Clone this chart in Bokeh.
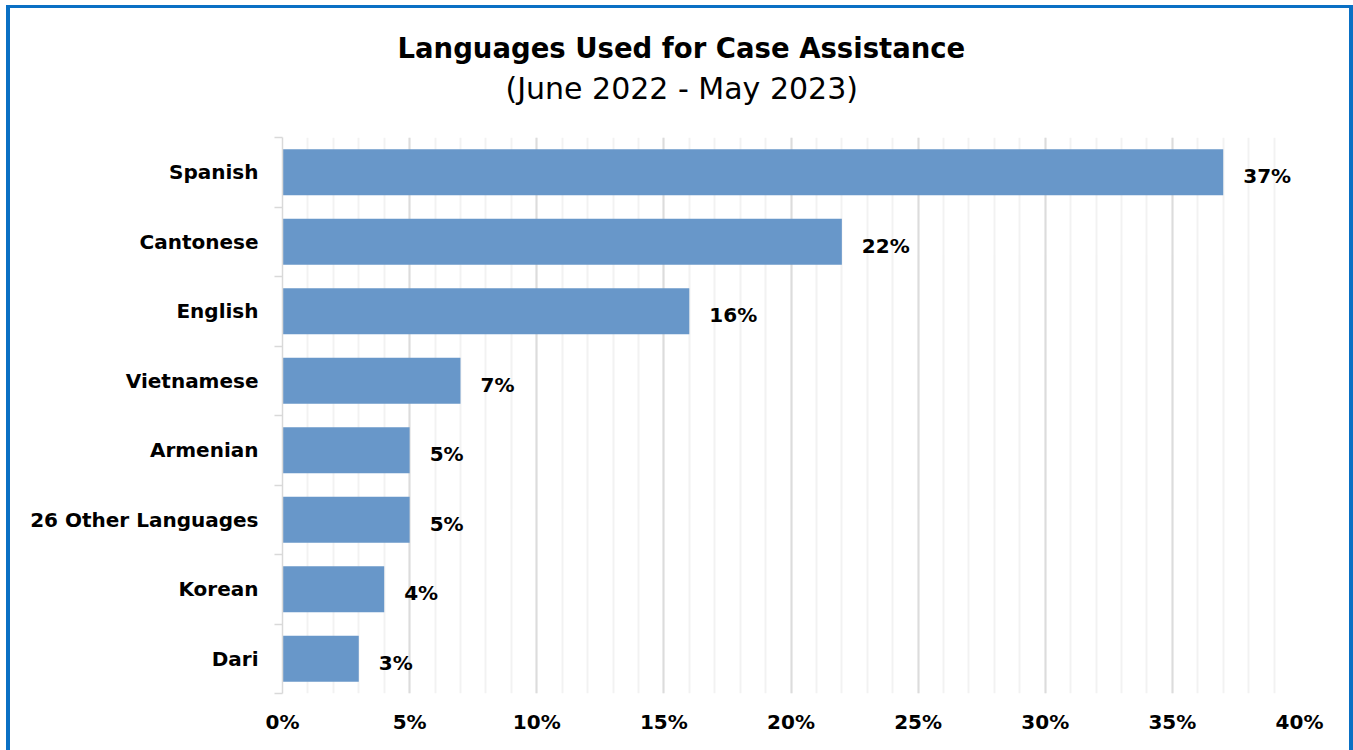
from bokeh.plotting import figure
from bokeh.models import (Range1d, FixedTicker, SingleIntervalTicker, PrintfTickFormatter,
                          Title, LabelSet, ColumnDataSource)
from bokeh.core.properties import value
from bokeh.embed import file_html
from bokeh.resources import INLINE

# ---- data ----
languages = ["Spanish", "Cantonese", "English", "Vietnamese", "Armenian",
             "26 Other Languages", "Korean", "Dari"]
shares = [37, 22, 16, 7, 5, 5, 4, 3]
x_ticks = [0, 5, 10, 15, 20, 25, 30, 35, 40]
title_text = "Languages Used for Case Assistance"
subtitle_text = "(June 2022 - May 2023)"

FONT = "DejaVu Sans"
BORDER = "#0A70C4"
BAR = "#6897C9"

n = len(languages)
ypos = [n - i - 0.5 for i in range(n)]
src = ColumnDataSource(dict(y=ypos, v=shares, lab=[f"{v}%" for v in shares], name=languages))

p = figure(width=1353, height=750, output_backend="svg", toolbar_location=None,
           x_range=Range1d(x_ticks[0], x_ticks[-1]), y_range=Range1d(0, n),
           min_border_left=282, min_border_right=54, min_border_top=137, min_border_bottom=57)

p.hbar(y="y", right="v", left=0, height=0.66, source=src, fill_color=BAR, line_color=None)

# x axis
p.xaxis.ticker = SingleIntervalTicker(interval=5, num_minor_ticks=5)
p.xaxis.formatter = PrintfTickFormatter(format="%d%%")
p.xaxis.axis_line_color = None
p.xaxis.major_tick_line_color = None
p.xaxis.minor_tick_line_color = None
p.xaxis.major_label_standoff = 10
p.xaxis.major_label_text_font = FONT
p.xaxis.major_label_text_font_style = "bold"
p.xaxis.major_label_text_font_size = "20px"
p.xaxis.major_label_text_color = "#000000"

# y axis
p.yaxis.ticker = FixedTicker(ticks=ypos, minor_ticks=list(range(n + 1)))
p.yaxis.major_label_overrides = {y: name for y, name in zip(ypos, languages)}
p.yaxis.axis_line_color = "#d9d9d9"
p.yaxis.axis_line_width = 1.5
p.yaxis.major_tick_line_color = None
p.yaxis.major_tick_out = 0
p.yaxis.major_tick_in = 0
p.yaxis.minor_tick_line_color = "#d9d9d9"
p.yaxis.minor_tick_line_width = 1.5
p.yaxis.minor_tick_out = 8
p.yaxis.minor_tick_in = 0
p.yaxis.major_label_standoff = 16
p.yaxis.major_label_text_font = FONT
p.yaxis.major_label_text_font_style = "bold"
p.yaxis.major_label_text_font_size = "20px"
p.yaxis.major_label_text_color = "#000000"

# grid
p.ygrid.visible = False
p.xgrid.grid_line_color = "#dcdcdc"
p.xgrid.grid_line_width = 2
p.xgrid.minor_grid_line_color = "#f2f2f2"
p.xgrid.minor_grid_line_width = 2

p.outline_line_color = None
p.border_fill_color = None
p.background_fill_color = None

# data labels
p.add_layout(LabelSet(x="v", y="y", text="lab", source=src, x_offset=20, y_offset=-4,
                      text_baseline="middle", text_align="left", text_font=value(FONT),
                      text_font_style="bold", text_font_size="20px", text_color="#000000"))

# titles (first added sits closest to the frame)
p.add_layout(Title(text=subtitle_text, align="left", offset=223, standoff=63,
                   text_font=FONT, text_font_style="normal", text_font_size="30px",
                   text_color="#000000"), "above")
p.add_layout(Title(text=title_text, align="left", offset=115, standoff=-53,
                   text_font=FONT, text_font_style="bold", text_font_size="27.5px",
                   text_color="#000000"), "above")

line = f"linear-gradient({BORDER},{BORDER})"
p.styles = {
    "background": (f"{line} 6px 5px / 4px 900px no-repeat, "
                   f"{line} 6px 5px / 1347px 3px no-repeat, "
                   f"{line} 1349px 5px / 4px 900px no-repeat, white")
}

open("out.html", "w").write(file_html(p, INLINE))
